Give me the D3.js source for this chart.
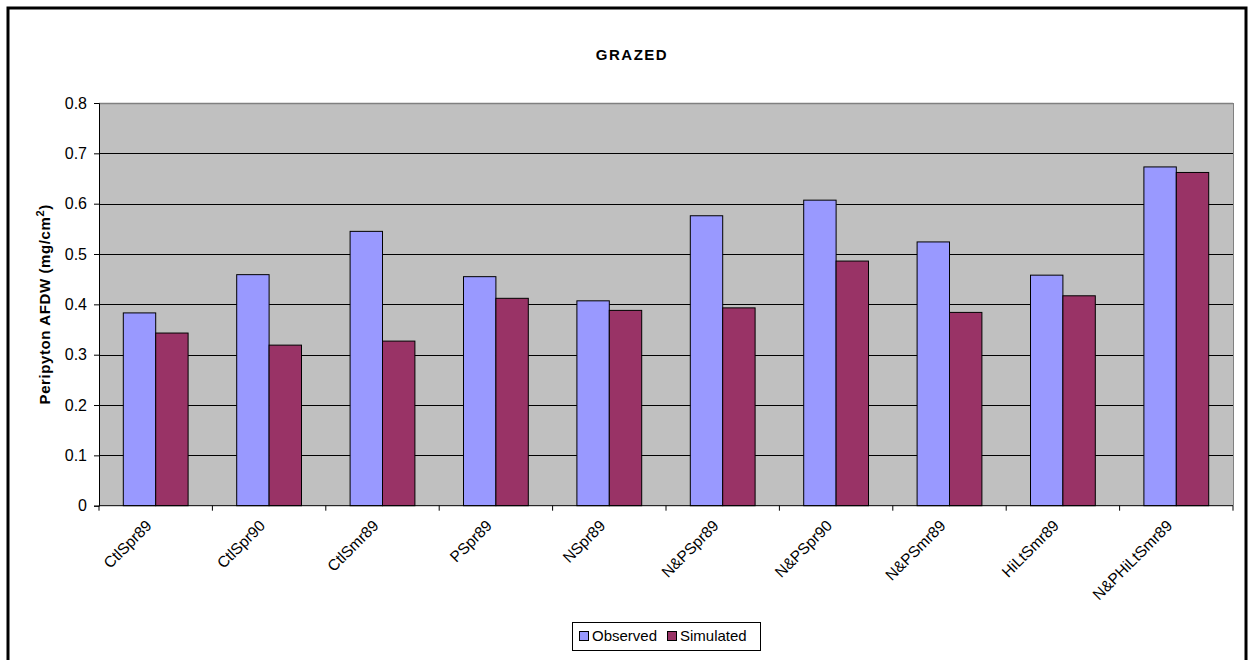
<!DOCTYPE html>
<html><head><meta charset="utf-8">
<script src="https://cdn.jsdelivr.net/npm/d3@7"></script>
<style>body{margin:0;background:#fff}svg{display:block}text{font-family:Arial,"Liberation Sans",sans-serif}</style>
</head><body>
<script>
const categories = ["CtlSpr89","CtlSpr90","CtlSmr89","PSpr89","NSpr89","N&PSpr89","N&PSpr90","N&PSmr89","HiLtSmr89","N&PHiLtSmr89"];
const seriesNames = ["Observed","Simulated"];
const observed = [0.383,0.459,0.545,0.455,0.407,0.576,0.607,0.524,0.458,0.673];
const simulated = [0.343,0.319,0.327,0.412,0.388,0.393,0.486,0.384,0.417,0.662];
const yTicks = [0,0.1,0.2,0.3,0.4,0.5,0.6,0.7,0.8];
const colors = ["#9999FF","#993366"];

const W=1250,H=660;
const m={left:99,right:1233,top:103,bottom:505.7};
const svg=d3.select("body").append("svg").attr("width",W).attr("height",H);

svg.append("rect").attr("x",8).attr("y",8).attr("width",1238).attr("height",700)
  .attr("fill","#fff").attr("stroke","#000").attr("stroke-width",3);

const x=d3.scaleBand().domain(categories).range([m.left,m.right]).paddingInner(0).paddingOuter(0);
const y=d3.scaleLinear().domain([0,0.8]).range([m.bottom,m.top]);
const bw=x.bandwidth()/3.5;
const x1=d3.scaleBand().domain(seriesNames).range([x.bandwidth()*0.75/3.5, x.bandwidth()*0.75/3.5+2*bw]);

svg.append("rect").attr("x",m.left).attr("y",m.top).attr("width",m.right-m.left).attr("height",m.bottom-m.top)
  .attr("fill","#C0C0C0");
// gridlines
svg.append("g").selectAll("line").data(yTicks.filter(d=>d>0)).join("line")
  .attr("x1",m.left).attr("x2",m.right).attr("y1",d=>Math.round(y(d))+0.5).attr("y2",d=>Math.round(y(d))+0.5)
  .attr("stroke",d=>d===0.8?"#808080":"#000").attr("stroke-width",d=>d===0.8?1.5:1);
svg.append("line").attr("x1",m.right+0.5).attr("x2",m.right+0.5).attr("y1",m.top).attr("y2",m.bottom)
  .attr("stroke","#808080");

// bars
const data=categories.map((c,i)=>({c,vals:[observed[i],simulated[i]]}));
const g=svg.append("g");
data.forEach(d=>{
  d.vals.forEach((v,j)=>{
    g.append("rect").attr("x",x(d.c)+x1(seriesNames[j])).attr("y",y(v))
      .attr("width",bw).attr("height",y(0)-y(v))
      .attr("fill",colors[j]).attr("stroke","#000").attr("stroke-width",1);
  });
});

// y axis
const ya=svg.append("g").attr("transform",`translate(${m.left},0)`)
  .call(d3.axisLeft(y).tickValues(yTicks).tickFormat(d=>d===0?"0":d3.format(".1f")(d)).tickSize(5).tickPadding(7));
ya.select(".domain").attr("stroke","#000");
ya.selectAll("text").attr("font-size",16).attr("fill","#000").attr("font-family","Arial, Liberation Sans, sans-serif");

// x axis
const xa=svg.append("g").attr("transform",`translate(0,${m.bottom})`);
xa.append("line").attr("x1",m.left).attr("x2",m.right).attr("stroke","#000");
xa.selectAll("line.tk").data(categories.concat(["__end"])).join("line").attr("class","tk")
  .attr("x1",(d,i)=>m.left+i*x.bandwidth()).attr("x2",(d,i)=>m.left+i*x.bandwidth())
  .attr("y1",0).attr("y2",5).attr("stroke","#000");
xa.selectAll("text").data(categories).join("text")
  .attr("transform",d=>`translate(${x(d)+x.bandwidth()/2-3},${21}) rotate(-45)`)
  .attr("text-anchor","end").attr("font-size",15.5).attr("fill","#000").text(d=>d);

// title
svg.append("text").attr("x",632).attr("y",60).attr("text-anchor","middle")
  .attr("font-size",15).attr("font-weight","bold").attr("letter-spacing",1.5).text("GRAZED");

// y label
svg.append("text").attr("transform",`translate(50,${(m.top+m.bottom)/2}) rotate(-90)`)
  .attr("text-anchor","middle").attr("font-size",15).attr("font-weight","bold").attr("letter-spacing",0.6)
  .html('Peripyton AFDW (mg/cm<tspan dy="-6" font-size="11">2</tspan><tspan dy="6">)</tspan>');

// legend
const lg=svg.append("g");
lg.append("rect").attr("x",572.5).attr("y",622.5).attr("width",188).attr("height",28).attr("fill","#fff").attr("stroke","#000");
const items=[{n:"Observed",sx:579,tx:592},{n:"Simulated",sx:667,tx:680}];
items.forEach((it,i)=>{
  lg.append("rect").attr("x",it.sx+0.5).attr("y",631.5).attr("width",9).attr("height",9).attr("fill",colors[i]).attr("stroke","#000");
  lg.append("text").attr("x",it.tx).attr("y",641).attr("font-size",15).text(it.n);
});
</script>
</body></html>
